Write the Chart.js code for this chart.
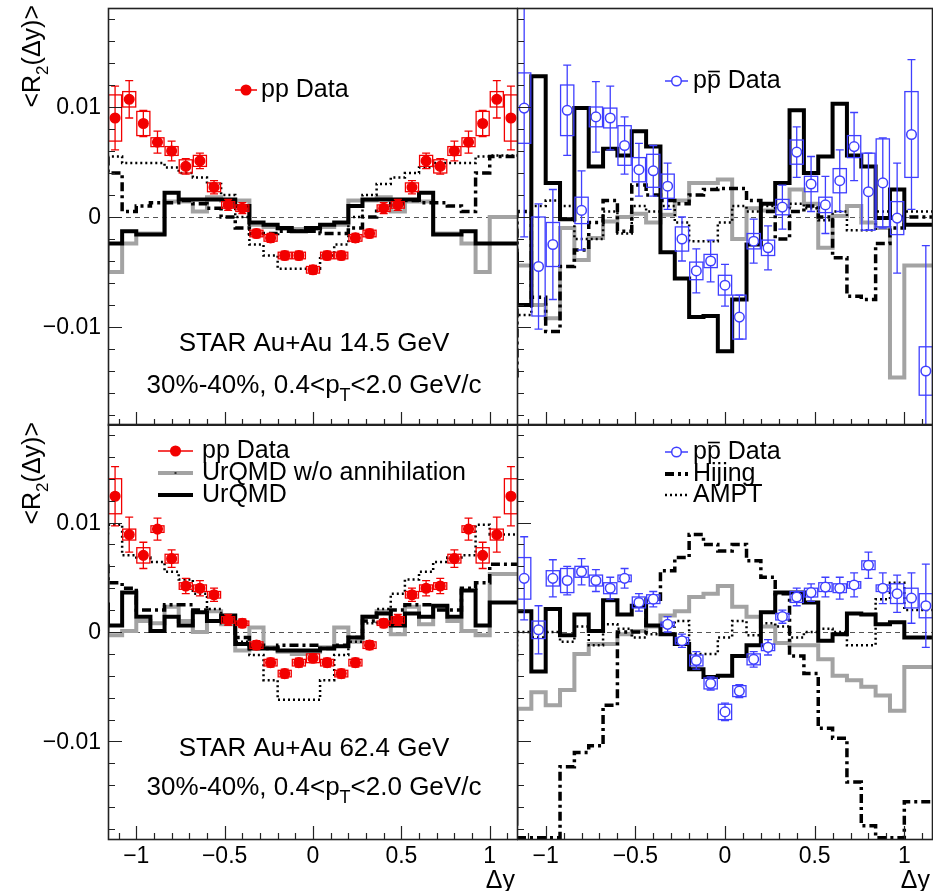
<!DOCTYPE html>
<html>
<head>
<meta charset="utf-8">
<script src="https://cdn.jsdelivr.net/npm/chart.js@4.4.0/dist/chart.umd.min.js"></script>
<style>
  body { margin: 0; background: #fff; }
  #fig { position: relative; width: 933px; height: 891px; overflow: hidden; background: #fff; }
  #fig canvas { position: absolute; }
</style>
</head>
<body>
<div id="fig">
  <canvas id="tl" width="518" height="426" style="left:0px;top:0px"></canvas>
  <canvas id="tr" width="416" height="426" style="left:517px;top:0px"></canvas>
  <canvas id="bl" width="518" height="475" style="left:0px;top:416px"></canvas>
  <canvas id="br" width="416" height="475" style="left:517px;top:416px"></canvas>
</div>
<script>
// bins en delta-y (29 bins de 0.08)
const binCenters = [-1.12, -1.04, -0.96, -0.88, -0.80, -0.72, -0.64, -0.56, -0.48, -0.40, -0.32, -0.24, -0.16, -0.08, 0.00,
                    0.08, 0.16, 0.24, 0.32, 0.40, 0.48, 0.56, 0.64, 0.72, 0.80, 0.88, 0.96, 1.04, 1.12];
const binWidth = 0.08;
const xTickValues = [-1, -0.5, 0, 0.5, 1];
const xTickLabels = ['\u22121', '\u22120.5', '0', '0.5', '1'];
const yTickValues = [0.01, 0, -0.01];
const yTickLabels = ['0.01', '0', '\u22120.01'];

// --- 14.5 GeV, pp (arriba izquierda)
const ppTop     = [0.0090, 0.0107, 0.0085, 0.0068, 0.0060, 0.0046, 0.0051, 0.0027, 0.0011, 0.0008, -0.0015, -0.0019, -0.0035, -0.0035, -0.0048,
                   -0.0035, -0.0035, -0.0019, -0.0015, 0.0008, 0.0011, 0.0027, 0.0051, 0.0046, 0.0060, 0.0068, 0.0085, 0.0107, 0.0090];
const ppTopStat = [0.0029, 0.0017, 0.0012, 0.0010, 0.0009, 0.0007, 0.0007, 0.0006, 0.0005, 0.0005, 0.0004, 0.0004, 0.0004, 0.0004, 0.0004,
                   0.0004, 0.0004, 0.0004, 0.0004, 0.0005, 0.0005, 0.0006, 0.0007, 0.0007, 0.0009, 0.0010, 0.0012, 0.0017, 0.0029];
const ppTopSys  = [0.0021, 0.0007, 0.0011, 0.0004, 0.0004, 0.0006, 0.0005, 0.0004, 0.0003, 0.0003, 0.0003, 0.0003, 0.0003, 0.0003, 0.0003,
                   0.0003, 0.0003, 0.0003, 0.0003, 0.0003, 0.0003, 0.0004, 0.0005, 0.0006, 0.0004, 0.0004, 0.0011, 0.0007, 0.0021];
const noAnnTopPP = [0.0000, -0.0050, -0.0024, -0.0015, -0.0015, 0.0014, 0.0014, 0.0005, 0.0018, 0.0015, 0.0015, -0.0007, -0.0009, -0.0011, -0.0011,
                    -0.0011, -0.0009, -0.0007, 0.0015, 0.0015, 0.0018, 0.0005, 0.0014, 0.0014, -0.0015, -0.0015, -0.0024, -0.0050, 0.0000];
const urqmdTopPP  = [-0.0024, -0.0024, -0.0013, -0.0016, -0.0016, 0.0022, 0.0016, 0.0016, 0.0016, 0.0016, 0.0010, -0.0005, -0.0007, -0.0010, -0.0013,
                     -0.0010, -0.0007, -0.0005, 0.0010, 0.0016, 0.0016, 0.0016, 0.0016, 0.0022, -0.0016, -0.0016, -0.0013, -0.0024, -0.0024];
const hijingTopPP = [0.0055, 0.0040, 0.0005, 0.0010, 0.0013, 0.0013, 0.0015, 0.0012, 0.0008, 0.0000, -0.0010, -0.0015, -0.0015, -0.0013, -0.0013,
                     -0.0013, -0.0015, -0.0015, -0.0010, 0.0000, 0.0008, 0.0012, 0.0015, 0.0013, 0.0013, 0.0010, 0.0005, 0.0040, 0.0055];
const amptTopPP   = [0.0056, 0.0055, 0.0049, 0.0049, 0.0049, 0.0045, 0.0040, 0.0036, 0.0030, 0.0020, 0.0000, -0.0025, -0.0035, -0.0047, -0.0047,
                     -0.0047, -0.0035, -0.0025, 0.0000, 0.0020, 0.0030, 0.0036, 0.0040, 0.0045, 0.0049, 0.0049, 0.0049, 0.0055, 0.0056];

// --- 14.5 GeV, p-pbar (arriba derecha)
const pbarTop     = [0.0099, -0.0045, -0.0025, 0.0097, 0.0006, 0.0091, 0.0090, 0.0065, 0.0043, 0.0042, 0.0028, -0.0020, -0.0049, -0.0040, -0.0062,
                     -0.0091, -0.0022, -0.0028, 0.0009, 0.0059, 0.0030, 0.0011, 0.0033, 0.0064, 0.0023, 0.0031, -0.0001, 0.0075, -0.0140];
const pbarTopStat = [0.0117, 0.0057, 0.0050, 0.0041, 0.0036, 0.0032, 0.0029, 0.0026, 0.0024, 0.0023, 0.0021, 0.0020, 0.0020, 0.0019, 0.0019,
                     0.0020, 0.0020, 0.0020, 0.0020, 0.0023, 0.0025, 0.0026, 0.0028, 0.0031, 0.0035, 0.0041, 0.0050, 0.0068, 0.0114];
const pbarTopSys  = [0.0032, 0.0045, 0.0020, 0.0023, 0.0012, 0.0009, 0.0009, 0.0018, 0.0011, 0.0015, 0.0011, 0.0011, 0.0008, 0.0006, 0.0009,
                     0.0020, 0.0007, 0.0007, 0.0007, 0.0011, 0.0007, 0.0007, 0.0011, 0.0010, 0.0035, 0.0040, 0.0015, 0.0039, 0.0022];
const noAnnTopPbar  = [-0.0044, -0.0044, -0.0080, -0.0092, -0.0010, -0.0039, -0.0019, -0.0004, 0.0000, 0.0003, -0.0005, 0.0002, 0.0015, 0.0031, 0.0031,
                       0.0034, -0.0020, 0.0008, 0.0006, 0.0010, 0.0025, 0.0012, -0.0028, 0.0001, 0.0010, -0.0005, -0.0010, -0.0146, -0.0044];
const urqmdTopPbar  = [-0.0032, -0.0080, 0.0128, 0.0031, -0.0002, 0.0099, 0.0046, 0.0062, 0.0056, 0.0078, 0.0064, -0.0032, -0.0056, -0.0091, -0.0090,
                       -0.0122, -0.0075, -0.0025, 0.0012, 0.0031, 0.0097, 0.0040, 0.0055, 0.0103, 0.0056, 0.0046, -0.0001, 0.0025, -0.0007];
const hijingTopPbar = [-0.0146, 0.0005, -0.0073, -0.0104, -0.0045, -0.0030, -0.0005, 0.0015, -0.0013, 0.0029, 0.0020, 0.0015, 0.0012, 0.0020, 0.0025,
                       0.0026, 0.0026, 0.0015, 0.0005, -0.0020, 0.0005, 0.0010, 0.0000, -0.0037, -0.0072, -0.0075, -0.0024, -0.0010, 0.0000];
const amptTopPbar   = [0.0005, -0.0089, 0.0010, 0.0015, 0.0010, -0.0020, -0.0020, 0.0005, -0.0015, 0.0010, 0.0005, 0.0010, -0.0005, -0.0022, -0.0022,
                       -0.0005, 0.0010, 0.0005, 0.0010, 0.0008, 0.0012, 0.0008, -0.0003, 0.0005, -0.0012, -0.0012, 0.0005, 0.0000, 0.0005];

// --- 62.4 GeV, pp (abajo izquierda)
const ppBot     = [0.0124, 0.0089, 0.0070, 0.0094, 0.0067, 0.0042, 0.0040, 0.0034, 0.0011, 0.0008, -0.0012, -0.0028, -0.0038, -0.0028, -0.0024,
                   -0.0028, -0.0038, -0.0028, -0.0012, 0.0008, 0.0011, 0.0034, 0.0040, 0.0042, 0.0067, 0.0094, 0.0070, 0.0089, 0.0124];
const ppBotStat = [0.0027, 0.0016, 0.0012, 0.0010, 0.0008, 0.0007, 0.0007, 0.0006, 0.0005, 0.0004, 0.0004, 0.0004, 0.0004, 0.0004, 0.0004,
                   0.0004, 0.0004, 0.0004, 0.0004, 0.0004, 0.0005, 0.0006, 0.0007, 0.0007, 0.0008, 0.0010, 0.0012, 0.0016, 0.0027];
const ppBotSys  = [0.0016, 0.0005, 0.0007, 0.0003, 0.0004, 0.0003, 0.0003, 0.0003, 0.0003, 0.0002, 0.0003, 0.0003, 0.0003, 0.0003, 0.0004,
                   0.0003, 0.0003, 0.0003, 0.0003, 0.0002, 0.0003, 0.0003, 0.0003, 0.0003, 0.0004, 0.0003, 0.0007, 0.0005, 0.0016];
const noAnnBotPP  = [0.0055, -0.0003, 0.0001, 0.0010, 0.0008, 0.0023, 0.0010, 0.0000, 0.0019, 0.0007, -0.0017, 0.0004, -0.0014, -0.0018, -0.0020,
                     -0.0018, -0.0014, 0.0004, -0.0009, 0.0014, 0.0019, -0.0002, 0.0023, 0.0007, 0.0023, 0.0010, 0.0001, -0.0003, 0.0053];
const urqmdBotPP  = [0.0027, 0.0006, 0.0036, 0.0014, 0.0001, 0.0014, 0.0006, 0.0018, 0.0010, 0.0015, -0.0011, -0.0015, -0.0015, -0.0017, -0.0017,
                     -0.0017, -0.0015, -0.0013, -0.0005, 0.0014, 0.0017, 0.0006, 0.0017, 0.0014, 0.0024, 0.0014, 0.0038, 0.0006, 0.0027];
const hijingBotPP = [0.0062, 0.0045, 0.0040, 0.0020, 0.0020, 0.0025, 0.0025, 0.0020, 0.0010, 0.0010, -0.0005, -0.0012, -0.0015, -0.0012, -0.0012,
                     -0.0012, -0.0015, -0.0012, -0.0005, 0.0010, 0.0010, 0.0020, 0.0025, 0.0025, 0.0020, 0.0020, 0.0040, 0.0045, 0.0062];
const amptBotPP   = [0.0089, 0.0098, 0.0070, 0.0068, 0.0064, 0.0055, 0.0048, 0.0035, 0.0021, 0.0008, -0.0009, -0.0021, -0.0044, -0.0062, -0.0062,
                     -0.0062, -0.0044, -0.0021, -0.0009, 0.0008, 0.0021, 0.0035, 0.0048, 0.0055, 0.0064, 0.0068, 0.0070, 0.0098, 0.0089];

// --- 62.4 GeV, p-pbar (abajo derecha)
const pbarBot     = [0.0049, 0.0002, 0.0049, 0.0047, 0.0055, 0.0047, 0.0040, 0.0049, 0.0027, 0.0030, 0.0007, -0.0008, -0.0026, -0.0047, -0.0073,
                     -0.0054, -0.0025, -0.0014, 0.0014, 0.0032, 0.0036, 0.0041, 0.0040, 0.0043, 0.0061, 0.0040, 0.0035, 0.0031, 0.0024];
const pbarBotStat = [0.0038, 0.0022, 0.0017, 0.0013, 0.0012, 0.0010, 0.0010, 0.0009, 0.0008, 0.0007, 0.0007, 0.0006, 0.0008, 0.0006, 0.0008,
                     0.0006, 0.0007, 0.0007, 0.0006, 0.0008, 0.0008, 0.0009, 0.0010, 0.0011, 0.0012, 0.0014, 0.0017, 0.0023, 0.0038];
const pbarBotSys  = [0.0019, 0.0008, 0.0007, 0.0011, 0.0005, 0.0005, 0.0005, 0.0003, 0.0005, 0.0004, 0.0002, 0.0003, 0.0005, 0.0005, 0.0007,
                     0.0005, 0.0005, 0.0003, 0.0003, 0.0005, 0.0004, 0.0004, 0.0004, 0.0003, 0.0004, 0.0003, 0.0009, 0.0009, 0.0011];
const noAnnBotPbar  = [-0.0177, -0.0070, -0.0055, -0.0067, -0.0053, -0.0020, -0.0011, -0.0011, -0.0002, 0.0001, 0.0005, 0.0015, 0.0019, 0.0032, 0.0035,
                       0.0042, 0.0023, 0.0014, 0.0005, -0.0010, -0.0012, -0.0012, -0.0025, -0.0040, -0.0044, -0.0050, -0.0058, -0.0072, -0.0032];
const urqmdBotPbar  = [0.0019, 0.0019, -0.0036, 0.0021, -0.0003, 0.0016, 0.0001, 0.0029, 0.0016, 0.0024, 0.0006, -0.0002, -0.0011, -0.0034, -0.0041,
                       -0.0040, -0.0022, -0.0012, 0.0018, 0.0036, 0.0036, 0.0027, -0.0008, -0.0002, 0.0017, 0.0016, 0.0007, 0.0009, -0.0005];
const hijingBotPbar = [-0.0188, -0.0188, -0.0188, -0.0188, -0.0123, -0.0110, -0.0104, -0.0067, 0.0000, 0.0000, 0.0030, 0.0056, 0.0068, 0.0089, 0.0080,
                       0.0074, 0.0080, 0.0065, 0.0050, 0.0035, -0.0022, -0.0038, -0.0088, -0.0097, -0.0137, -0.0177, -0.0188, -0.0188, -0.0155];
const amptBotPbar   = [-0.0027, 0.0000, -0.0005, 0.0000, -0.0009, 0.0005, -0.0012, 0.0007, 0.0003, -0.0005, -0.0002, 0.0005, 0.0010, -0.0020, -0.0020,
                       -0.0005, 0.0010, -0.0003, 0.0008, 0.0005, -0.0005, 0.0000, 0.0003, 0.0000, -0.0012, -0.0012, 0.0030, 0.0045, 0.0020];

const FONT = '"Liberation Sans", Arial, Helvetica, sans-serif';
const RED = '#f20000';
const BLUE = '#3f3fff';
const GRAY = '#a3a3a3';

// histograma: bordes izquierdos + ultimo borde derecho
function histPoints(vals) {
    const pts = vals.map((v, i) => ({ x: binCenters[i] - binWidth / 2, y: v }));
    pts.push({ x: binCenters[vals.length - 1] + binWidth / 2, y: vals[vals.length - 1] });
    return pts;
}

// texto con subindices y barra
function richWidth(ctx, parts, size) {
    let w = 0;
    parts.forEach(p => {
        ctx.font = (p.sub ? Math.round(size * 0.68) : size) + 'px ' + FONT;
        w += ctx.measureText(p.t).width;
    });
    return w;
}
function drawRich(ctx, parts, x, y, size, align) {
    const w = richWidth(ctx, parts, size);
    let cx = align === 'center' ? x - w / 2 : (align === 'right' ? x - w : x);
    ctx.textAlign = 'left';
    ctx.textBaseline = 'alphabetic';
    parts.forEach(p => {
        const s = p.sub ? Math.round(size * 0.68) : size;
        ctx.font = s + 'px ' + FONT;
        const tw = ctx.measureText(p.t).width;
        ctx.fillText(p.t, cx, p.sub ? y + size * 0.3 : y);
        if (p.bar) {
            ctx.save();
            ctx.lineWidth = 1.6;
            ctx.strokeStyle = ctx.fillStyle;
            ctx.beginPath();
            ctx.moveTo(cx + 1, y - size * 0.66);
            ctx.lineTo(cx + tw - 1, y - size * 0.66);
            ctx.stroke();
            ctx.restore();
        }
        cx += tw;
    });
}

function drawMarker(ctx, kind, x0, x1, y) {
    const xm = (x0 + x1) / 2;
    ctx.save();
    ctx.setLineDash([]);
    if (kind === 'pp' || kind === 'pbar') {
        const col = kind === 'pp' ? RED : BLUE;
        ctx.strokeStyle = col;
        ctx.lineWidth = 1.5;
        ctx.beginPath(); ctx.moveTo(x0, y); ctx.lineTo(x1, y); ctx.stroke();
        ctx.beginPath(); ctx.arc(xm, y, 4.8, 0, Math.PI * 2);
        ctx.fillStyle = kind === 'pp' ? RED : '#fff';
        ctx.fill(); ctx.stroke();
    } else if (kind === 'gray') {
        ctx.strokeStyle = GRAY; ctx.lineWidth = 4;
        ctx.beginPath(); ctx.moveTo(x0, y); ctx.lineTo(x1, y); ctx.stroke();
        ctx.fillStyle = '#333'; ctx.fillRect(xm - 1, y - 1, 2, 2);
    } else if (kind === 'black') {
        ctx.strokeStyle = '#000'; ctx.lineWidth = 4;
        ctx.beginPath(); ctx.moveTo(x0, y); ctx.lineTo(x1, y); ctx.stroke();
    } else if (kind === 'hijing') {
        ctx.strokeStyle = '#000'; ctx.lineWidth = 4;
        ctx.setLineDash([9, 4, 3, 4]);
        ctx.beginPath(); ctx.moveTo(x0, y); ctx.lineTo(x1, y); ctx.stroke();
    } else if (kind === 'ampt') {
        ctx.strokeStyle = '#000'; ctx.lineWidth = 2.5;
        ctx.setLineDash([2, 3]);
        ctx.beginPath(); ctx.moveTo(x0, y); ctx.lineTo(x1, y); ctx.stroke();
    }
    ctx.restore();
}

function makePanel(spec) {
    const isPP = spec.kind === 'pp';
    const col = isPP ? RED : BLUE;

    const lineBase = { pointRadius: 0, fill: false, stepped: 'after', tension: 0, showLine: true };
    const datasets = [
        {
            label: isPP ? 'pp Data' : 'p-pbar Data',
            data: binCenters.map((c, i) => ({ x: c, y: spec.y[i] })),
            showLine: false,
            pointRadius: 4.8,
            pointBorderWidth: 1.5,
            pointBorderColor: col,
            pointBackgroundColor: isPP ? RED : '#fff'
        },
        Object.assign({ label: 'AMPT', data: histPoints(spec.ampt), borderColor: '#000', borderWidth: 2.5, borderDash: [2, 3] }, lineBase),
        Object.assign({ label: 'Hijing', data: histPoints(spec.hijing), borderColor: '#000', borderWidth: 3.5, borderDash: [9, 4, 3, 4] }, lineBase),
        Object.assign({ label: 'UrQMD', data: histPoints(spec.urqmd), borderColor: '#000', borderWidth: 4 }, lineBase),
        Object.assign({ label: 'UrQMD w/o annihilation', data: histPoints(spec.noAnn), borderColor: GRAY, borderWidth: 4 }, lineBase)
    ];

    // barras de error y cajas sistematicas
    const errorPlugin = {
        id: 'errorBars',
        beforeDatasetDraw(chart, args) {
            if (args.index !== 0) return;
            const xs = chart.scales.x, ys = chart.scales.y, ctx = chart.ctx, a = chart.chartArea;
            ctx.save();
            ctx.beginPath();
            ctx.rect(a.left, a.top, a.right - a.left, a.bottom - a.top);
            ctx.clip();
            ctx.strokeStyle = col;
            ctx.lineWidth = 1.3;
            binCenters.forEach((c, i) => {
                const v = spec.y[i];
                const x0 = xs.getPixelForValue(c - 0.037), x1 = xs.getPixelForValue(c + 0.037);
                const yt = ys.getPixelForValue(v + spec.sys[i]), yb = ys.getPixelForValue(v - spec.sys[i]);
                ctx.strokeRect(x0, yt, x1 - x0, yb - yt);
                const xc = xs.getPixelForValue(c);
                const et = ys.getPixelForValue(v + spec.stat[i]), eb = ys.getPixelForValue(v - spec.stat[i]);
                ctx.beginPath();
                ctx.moveTo(xc, et); ctx.lineTo(xc, eb);
                ctx.moveTo(xc - 4, et); ctx.lineTo(xc + 4, et);
                ctx.moveTo(xc - 4, eb); ctx.lineTo(xc + 4, eb);
                ctx.stroke();
            });
            ctx.restore();
        }
    };

    // marco, ticks, etiquetas, leyenda y textos
    const framePlugin = {
        id: 'rootFrame',
        beforeDatasetsDraw(chart) {
            const ys = chart.scales.y, ctx = chart.ctx, a = chart.chartArea;
            const y0 = Math.round(ys.getPixelForValue(0)) + 0.5;
            ctx.save();
            ctx.strokeStyle = '#555';
            ctx.lineWidth = 1;
            ctx.setLineDash([5, 4]);
            ctx.beginPath(); ctx.moveTo(a.left, y0); ctx.lineTo(a.right, y0); ctx.stroke();
            ctx.restore();
        },
        afterDraw(chart) {
            const xs = chart.scales.x, ys = chart.scales.y, ctx = chart.ctx, a = chart.chartArea;
            ctx.save();
            ctx.strokeStyle = '#222';
            ctx.lineWidth = 1.6;
            ctx.strokeRect(a.left + 0.5, a.top + 0.5, a.right - a.left - 1, a.bottom - a.top - 1);

            ctx.lineWidth = 1.2;
            ctx.beginPath();
            for (let k = -11; k <= 11; k++) {
                const v = k / 10;
                const px = Math.round(xs.getPixelForValue(v)) + 0.5;
                const len = (k % 5 === 0) ? 14 : 7;
                ctx.moveTo(px, a.bottom); ctx.lineTo(px, a.bottom - len);
            }
            for (let k = -9; k <= 9; k++) {
                const v = k * 0.002;
                const py = Math.round(ys.getPixelForValue(v)) + 0.5;
                const len = (k % 5 === 0) ? 14 : 7;
                ctx.moveTo(a.left, py); ctx.lineTo(a.left + len, py);
            }
            ctx.stroke();

            ctx.fillStyle = '#000';
            if (spec.yLabels) {
                ctx.font = '23px ' + FONT;
                ctx.textAlign = 'right';
                ctx.textBaseline = 'middle';
                yTickValues.forEach((v, i) => ctx.fillText(yTickLabels[i], a.left - 7, ys.getPixelForValue(v) + 1));
                // titulo del eje y
                ctx.save();
                ctx.translate(40, spec.yTitleTop);
                ctx.rotate(-Math.PI / 2);
                drawRich(ctx, [{ t: '<R' }, { t: '2', sub: true }, { t: '(\u0394y)>' }], 0, 0, 25, 'right');
                ctx.restore();
            }
            if (spec.xLabels) {
                ctx.font = '23px ' + FONT;
                ctx.textAlign = 'center';
                ctx.textBaseline = 'middle';
                xTickValues.forEach((v, i) => ctx.fillText(xTickLabels[i], xs.getPixelForValue(v), a.bottom + 17));
                drawRich(ctx, [{ t: '\u0394y' }], spec.xTitleRight, a.bottom + 48, 25, 'right');
            }

            // leyenda
            spec.legend.forEach(e => {
                drawMarker(ctx, e.kind, spec.legendX0, spec.legendX1, e.y + 2);
                ctx.fillStyle = '#000';
                drawRich(ctx, e.parts, spec.legendText, e.y + 9, 25, 'left');
            });

            // anotaciones
            ctx.fillStyle = '#000';
            (spec.notes || []).forEach(n => drawRich(ctx, n.parts, (a.left + a.right) / 2 + 1, n.y + 9, 26, 'center'));
            ctx.restore();
        }
    };

    return new Chart(document.getElementById(spec.id), {
        type: 'line',
        data: { datasets },
        options: {
            responsive: false,
            animation: false,
            devicePixelRatio: 1,
            layout: { padding: spec.padding, autoPadding: false },
            plugins: { legend: { display: false }, tooltip: { enabled: false } },
            scales: {
                x: { type: 'linear', min: -1.16, max: 1.16, display: false },
                y: { type: 'linear', min: -0.019, max: 0.019, display: false }
            }
        },
        plugins: [errorPlugin, framePlugin]
    });
}

const ppParts = [{ t: 'pp Data' }];
const pbarParts = [{ t: 'p' }, { t: 'p', bar: true }, { t: ' Data' }];
const kinParts = [{ t: '30%-40%, 0.4<p' }, { t: 'T', sub: true }, { t: '<2.0 GeV/c' }];

makePanel({
    id: 'tl', kind: 'pp', y: ppTop, stat: ppTopStat, sys: ppTopSys,
    noAnn: noAnnTopPP, urqmd: urqmdTopPP, hijing: hijingTopPP, ampt: amptTopPP,
    padding: { left: 108, top: 8, right: 0, bottom: 0 },
    yLabels: true, xLabels: false, yTitleTop: 5,
    legendX0: 235, legendX1: 257, legendText: 261,
    legend: [{ kind: 'pp', y: 88, parts: ppParts }],
    notes: [{ y: 342, parts: [{ t: 'STAR Au+Au 14.5 GeV' }] }, { y: 384, parts: kinParts }]
});
makePanel({
    id: 'tr', kind: 'pbar', y: pbarTop, stat: pbarTopStat, sys: pbarTopSys,
    noAnn: noAnnTopPbar, urqmd: urqmdTopPbar, hijing: hijingTopPbar, ampt: amptTopPbar,
    padding: { left: 0, top: 8, right: 0, bottom: 0 },
    yLabels: false, xLabels: false,
    legendX0: 148, legendX1: 171, legendText: 176,
    legend: [{ kind: 'pbar', y: 79, parts: pbarParts }]
});
makePanel({
    id: 'bl', kind: 'pp', y: ppBot, stat: ppBotStat, sys: ppBotSys,
    noAnn: noAnnBotPP, urqmd: urqmdBotPP, hijing: hijingBotPP, ampt: amptBotPP,
    padding: { left: 108, top: 8, right: 0, bottom: 51 },
    yLabels: true, xLabels: true, yTitleTop: 6, xTitleRight: 515,
    legendX0: 158, legendX1: 193, legendText: 202,
    legend: [
        { kind: 'pp', y: 33, parts: ppParts },
        { kind: 'gray', y: 55, parts: [{ t: 'UrQMD w/o annihilation' }] },
        { kind: 'black', y: 77, parts: [{ t: 'UrQMD' }] }
    ],
    notes: [{ y: 331, parts: [{ t: 'STAR Au+Au 62.4 GeV' }] }, { y: 370, parts: kinParts }]
});
makePanel({
    id: 'br', kind: 'pbar', y: pbarBot, stat: pbarBotStat, sys: pbarBotSys,
    noAnn: noAnnBotPbar, urqmd: urqmdBotPbar, hijing: hijingBotPbar, ampt: amptBotPbar,
    padding: { left: 0, top: 8, right: 0, bottom: 51 },
    yLabels: false, xLabels: true, xTitleRight: 413,
    legendX0: 148, legendX1: 171, legendText: 176,
    legend: [
        { kind: 'pbar', y: 34, parts: pbarParts },
        { kind: 'hijing', y: 56, parts: [{ t: 'Hijing' }] },
        { kind: 'ampt', y: 77, parts: [{ t: 'AMPT' }] }
    ]
});
</script>
</body>
</html>
